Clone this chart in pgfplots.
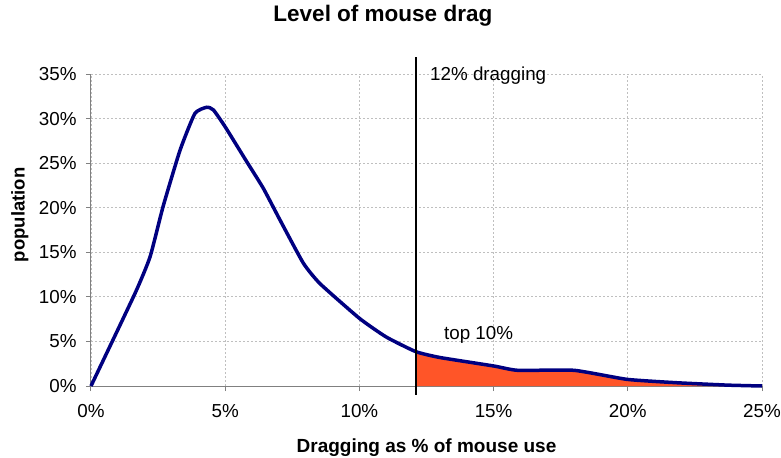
\documentclass[border=0pt]{standalone}
\usepackage{pgfplots}
\pgfplotsset{compat=1.18}
\usepackage{fontspec}
\setmainfont{Liberation Sans}
\definecolor{curve}{RGB}{0,0,128}
\definecolor{tail}{RGB}{255,85,40}
\definecolor{axgray}{RGB}{128,128,128}
\begin{document}
\begin{tikzpicture}[x=1bp,y=1bp]
\begin{axis}[
    name=ax,
    scale only axis,
    width=671bp, height=311.7bp,
    xmin=0, xmax=25, ymin=0, ymax=35,
    xtick={0,5,...,25}, ytick={0,5,...,35},
    xticklabel={\pgfmathprintnumber{\tick}\%},
    yticklabel={\pgfmathprintnumber{\tick}\%},
    /pgf/number format/assume math mode=true,
    tick label style={font=\fontsize{18.8bp}{20bp}\selectfont},
    xticklabel style={yshift=-10bp},
    yticklabel style={xshift=-6bp},
    axis lines*=left,
    axis line style={axgray, line width=1bp},
    tick align=outside,
    major tick length=5bp,
    tick style={axgray, line width=1bp},
    grid=major,
    grid style={dash pattern=on 2bp off 2bp, gray!50, line width=0.9bp},
    clip=false,
    title={\bfseries Level of mouse drag},
    title style={at={(rel axis cs:0.435,1.168)}, anchor=center, font=\fontsize{22.5bp}{24bp}\selectfont},
    xlabel={\bfseries Dragging as \% of mouse use},
    xlabel style={at={(rel axis cs:0.5,-0.198)}, anchor=center, font=\fontsize{19bp}{21bp}\selectfont},
    ylabel={\bfseries population},
    ylabel style={at={(rel axis cs:-0.106,0.549)}, anchor=center, rotate=0, font=\fontsize{18.5bp}{20bp}\selectfont},
]
% shaded tail above the 12% threshold
\addplot[fill=tail, draw=none] coordinates {
    (12.1,3.86) (13.0,3.2) (15.0,2.25) (15.9,1.76) (18.0,1.76)
    (19.96,0.75) (21.8,0.37) (23.7,0.1) (25,0)
} \closedcycle;
% distribution curve
\addplot[curve, line width=3.5bp, smooth, tension=0.3] coordinates {
    (0,0) (1.64,10.4) (2.2,14.5) (2.69,20.2) (3.32,26.5) (3.87,30.6)
    (4.31,31.3) (4.56,31.0) (5.0,29.1) (5.8,25.2) (6.42,22.2)
    (7.04,18.65) (7.91,13.8) (8.53,11.5) (10.0,7.6) (11.0,5.5)
    (12.1,3.86) (13.0,3.2) (15.0,2.25) (15.9,1.76) (18.0,1.76)
    (19.96,0.75) (21.8,0.37) (23.7,0.1) (25,0)
};
% threshold line
\addplot[black, line width=2.5bp] coordinates {(12.1,-1.0) (12.1,36.9)};
\node[anchor=west, inner sep=0pt, font=\fontsize{18.8bp}{20bp}\selectfont] at (axis cs:12.63,34.9) {12\% dragging};
\node[anchor=west, inner sep=0pt, font=\fontsize{18.8bp}{20bp}\selectfont] at (axis cs:13.15,5.7) {top 10\%};
\end{axis}
\pgfresetboundingbox
\path ([shift={(-91bp,-72bp)}]ax.south west) rectangle ([shift={(19bp,74.3bp)}]ax.north east);
\end{tikzpicture}
\end{document}
